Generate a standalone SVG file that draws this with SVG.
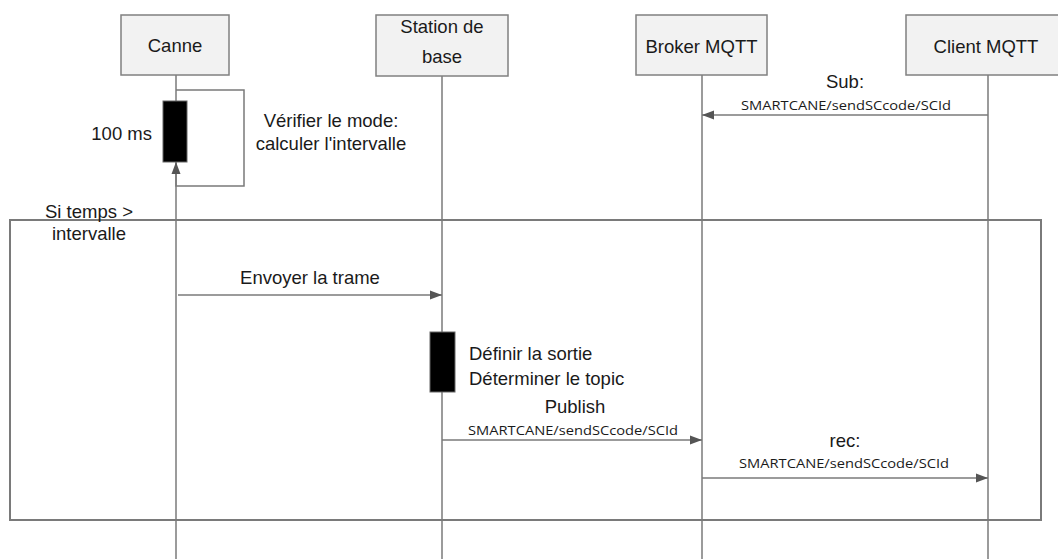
<svg xmlns="http://www.w3.org/2000/svg" width="1058" height="559" viewBox="0 0 1058 559">
<style>
.box{fill:#f2f2f2;stroke:#808080;stroke-width:1.5}
.ln{stroke:#7a7a7a;stroke-width:1.5;fill:none}
.t{font-family:"Liberation Sans",Arial,sans-serif;font-size:18.5px;fill:#1a1a1a}
.s{font-family:"Open Sans","Liberation Sans",sans-serif;font-size:13px;fill:#1a1a1a}
.bar{fill:#000;stroke:#666;stroke-width:1}
</style>
<defs>
<marker id="ah" viewBox="0 0 12 10" refX="12" refY="5" markerWidth="12" markerHeight="10" markerUnits="userSpaceOnUse" orient="auto">
<path d="M0,0.5 L12,5 L0,9.5 Z" fill="#555"/>
</marker>
</defs>
<rect width="1058" height="559" fill="#fff"/>
<g id="lifelines">
<line class="ln" x1="176" y1="75" x2="176" y2="559"/>
<line class="ln" x1="442" y1="76" x2="442" y2="559"/>
<line class="ln" x1="702" y1="75" x2="702" y2="559"/>
<line class="ln" x1="988" y1="75" x2="988" y2="559"/>
</g>
<g id="canne"><rect class="box" x="121" y="15" width="108" height="60"/><text class="t" x="175" y="52" text-anchor="middle">Canne</text></g>
<g id="station"><rect class="box" x="376" y="15" width="132" height="61"/><text class="t" x="442" y="33" text-anchor="middle">Station de</text><text class="t" x="442" y="63" text-anchor="middle">base</text></g>
<g id="broker"><rect class="box" x="636" y="15" width="131" height="60"/><text class="t" x="701.5" y="53" text-anchor="middle">Broker MQTT</text></g>
<g id="client"><rect class="box" x="906" y="15" width="164" height="60"/><text class="t" x="986" y="53" text-anchor="middle">Client MQTT</text></g>
<g id="frame">
<rect x="10" y="220" width="1031" height="300" fill="none" stroke="#7a7a7a" stroke-width="2"/>
<text class="t" x="89" y="218" text-anchor="middle">Si temps &gt;</text>
<text class="t" x="89" y="240" text-anchor="middle">intervalle</text>
</g>
<g id="act-canne"><rect class="bar" x="163" y="101" width="24" height="61"/><text class="t" x="152" y="140" text-anchor="end">100 ms</text><text class="t" x="331" y="127" text-anchor="middle">Vérifier le mode:</text><text class="t" x="331" y="150" text-anchor="middle">calculer l'intervalle</text></g>
<g id="act-station"><rect class="bar" x="430" y="332" width="25" height="60"/><text class="t" x="469" y="360">Définir la sortie</text><text class="t" x="469" y="385">Déterminer le topic</text></g>
<g id="connectors">
<path class="ln" d="M176,90 H244 V186 H176 V162" marker-end="url(#ah)"/>
<line class="ln" x1="988" y1="115" x2="702" y2="115" marker-end="url(#ah)"/>
<line class="ln" x1="178" y1="295" x2="442" y2="295" marker-end="url(#ah)"/>
<line class="ln" x1="442" y1="440" x2="702" y2="440" marker-end="url(#ah)"/>
<line class="ln" x1="702" y1="478" x2="988" y2="478" marker-end="url(#ah)"/>
</g>
<g id="labels">
<text class="t" x="845" y="88" text-anchor="middle">Sub:</text>
<text class="s" x="741" y="110" textLength="210" lengthAdjust="spacingAndGlyphs">SMARTCANE/sendSCcode/SCId</text>
<text class="t" x="310" y="284" text-anchor="middle">Envoyer la trame</text>
<text class="t" x="575" y="413" text-anchor="middle">Publish</text>
<text class="s" x="468" y="435" textLength="210" lengthAdjust="spacingAndGlyphs">SMARTCANE/sendSCcode/SCId</text>
<text class="t" x="845" y="447" text-anchor="middle">rec:</text>
<text class="s" x="739" y="468" textLength="210" lengthAdjust="spacingAndGlyphs">SMARTCANE/sendSCcode/SCId</text>
</g>
</svg>
